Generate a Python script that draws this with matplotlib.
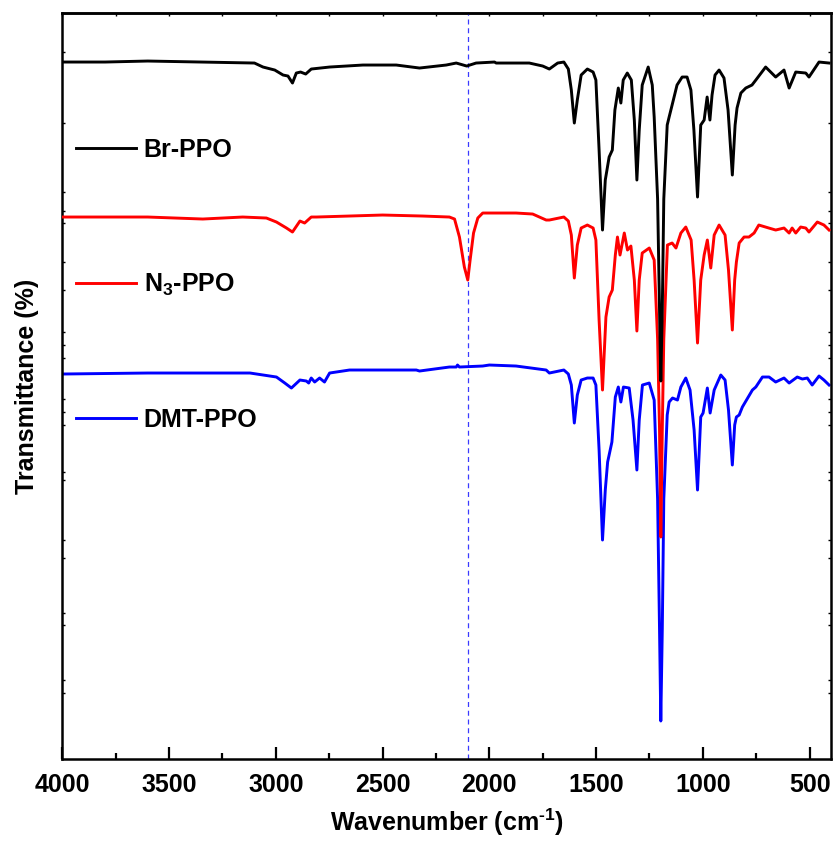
import matplotlib
matplotlib.use('Agg')
import matplotlib.pyplot as plt
from matplotlib.ticker import MultipleLocator, NullFormatter

plt.rcParams['font.family'] = ['Liberation Sans', 'DejaVu Sans']
plt.rcParams['font.weight'] = 'bold'
plt.rcParams['mathtext.fontset'] = 'custom'
plt.rcParams['mathtext.rm'] = 'Liberation Sans:bold'
plt.rcParams['mathtext.bf'] = 'Liberation Sans:bold'
plt.rcParams['mathtext.it'] = 'Liberation Sans:bold:italic'
plt.rcParams['mathtext.default'] = 'rm'

# ---------------- data (wavenumber cm-1, transmittance a.u.) ----------------
br_wn = [4000, 3800, 3600, 3350, 3100, 3060, 3005, 2966, 2943, 2922, 2904, 2884, 2860, 2834,
         2748, 2592, 2436, 2327, 2202, 2155, 2106, 2062, 1976, 1968, 1813, 1750, 1719, 1680,
         1651, 1630, 1616, 1602, 1588, 1570, 1541, 1514, 1501, 1486, 1470, 1457, 1439, 1424,
         1412, 1396, 1384, 1373, 1354, 1335, 1321, 1309, 1298, 1284, 1256, 1237, 1228, 1212,
         1203, 1197, 1190, 1183, 1167, 1158, 1144, 1121, 1097, 1074, 1056, 1042, 1025, 1010,
         994, 980, 967, 957, 943, 924, 901, 882, 862, 849, 840, 822, 799, 770, 752, 706,
         659, 620, 596, 565, 518, 503, 456, 409]
br_t = [697, 697, 698, 697, 696, 692, 689, 684, 683, 676, 686, 687, 685, 690,
        692, 694, 694, 691, 694, 696, 693, 696, 697, 696, 696, 693, 690, 696,
        697, 690, 669, 636, 659, 684, 690, 687, 679, 609, 529, 579, 602, 609,
        649, 671, 656, 679, 686, 679, 639, 579, 629, 674, 692, 674, 642, 560,
        450, 378, 450, 560, 634, 642, 654, 674, 682, 682, 669, 629, 562, 634,
        639, 662, 639, 664, 684, 689, 681, 649, 584, 634, 651, 666, 671, 674, 679, 692,
        682, 689, 671, 687, 686, 682, 697, 696]

n3_wn = [4000, 3600, 3342, 3155, 3044, 2997, 2950, 2922, 2887, 2865, 2834, 2810, 2500, 2313,
         2187, 2163, 2140, 2117, 2101, 2090, 2074, 2054, 2031, 1968, 1875, 1797, 1734, 1719,
         1651, 1630, 1616, 1602, 1588, 1570, 1541, 1514, 1501, 1486, 1470, 1454, 1439, 1424,
         1410, 1400, 1388, 1368, 1353, 1337, 1321, 1309, 1298, 1284, 1251, 1228, 1212, 1203,
         1197, 1190, 1183, 1166, 1144, 1126, 1103, 1080, 1055, 1041, 1025, 1010, 994, 979,
         963, 947, 924, 896, 880, 862, 851, 843, 830, 807, 784, 760, 738, 691, 659, 620,
         596, 582, 565, 542, 518, 503, 464, 433, 409]
n3_t = [542, 542, 540, 542, 541, 537, 531, 527, 538, 536, 542, 542, 544, 543,
        542, 540, 522, 492, 479, 499, 526, 541, 546, 546, 546, 545, 539, 539,
        542, 538, 524, 481, 514, 531, 534, 531, 519, 439, 369, 442, 462, 469,
        504, 522, 504, 526, 509, 513, 479, 428, 479, 506, 511, 499, 420, 330,
        222, 330, 420, 514, 516, 511, 526, 532, 519, 479, 416, 479, 504, 519,
        491, 524, 534, 524, 489, 429, 479, 497, 516, 522, 522, 526, 534, 531, 529, 531,
        526, 531, 526, 532, 531, 527, 537, 534, 529]

dmt_wn = [4000, 3600, 3300, 3121, 2997, 2958, 2927, 2912, 2887, 2857, 2846, 2834, 2818, 2795,
          2772, 2748, 2655, 2342, 2327, 2187, 2155, 2149, 2140, 2031, 2000, 1875, 1734, 1719,
          1651, 1630, 1616, 1602, 1588, 1570, 1541, 1514, 1501, 1486, 1470, 1457, 1446, 1426,
          1410, 1396, 1384, 1372, 1345, 1327, 1309, 1298, 1283, 1251, 1228, 1212, 1203, 1197,
          1190, 1183, 1167, 1158, 1142, 1119, 1103, 1080, 1060, 1041, 1025, 1010, 999, 979,
          966, 947, 916, 896, 880, 862, 851, 843, 830, 815, 768, 752, 721, 690, 659, 620,
          596, 558, 534, 511, 488, 456, 433, 409]
dmt_t = [385, 386, 386, 386, 382, 376, 371, 374, 379, 378, 376, 381, 377, 381,
         377, 386, 389, 389, 388, 392, 392, 394, 392, 393, 394, 393, 389, 386,
         389, 385, 374, 336, 364, 379, 381, 381, 374, 309, 219, 269, 297, 317,
         362, 372, 357, 372, 371, 339, 289, 339, 374, 376, 359, 260, 130,
         38, 130, 260, 344, 357, 361, 359, 372, 381, 369, 329, 269, 342, 346, 371,
         346, 369, 384, 379, 349, 294, 334, 342, 344, 352, 369, 372, 382, 382, 377, 381,
         376, 382, 380, 381, 374, 383, 379, 374]

labels = ['Br-PPO', 'N$_3$-PPO', 'DMT-PPO']
colors = ['#000000', '#ff0000', '#0000ff']
azide_wn = 2100
x_major = 500
x_minor = 250
y_ticks = [707, 636, 567, 548, 536, 497, 469, 427, 414, 401, 360, 347, 334,
           287, 279, 219, 201, 146, 134, 79, 66]

# ---------------- figure ----------------
fig = plt.figure(figsize=(8.36, 8.41), dpi=100)
ax = fig.add_axes([0.0745, 0.0975, 0.9195, 0.887])

ax.axvline(azide_wn, color='#3a3aff', ls=(0, (4, 3)), lw=0.9, zorder=1)
h3, = ax.plot(dmt_wn, dmt_t, color=colors[2], lw=2.1, zorder=2, label=labels[2])
h2, = ax.plot(n3_wn, n3_t, color=colors[1], lw=2.1, zorder=3, label=labels[1])
h1, = ax.plot(br_wn, br_t, color=colors[0], lw=2.1, zorder=4, label=labels[0])

ax.set_xlim(4000, 400)
ax.set_ylim(0, 746)

ax.xaxis.set_major_locator(MultipleLocator(x_major))
ax.xaxis.set_minor_locator(MultipleLocator(x_minor))
ax.tick_params(axis='x', which='major', direction='in', length=9, width=1.6,
               labelsize=18, pad=10)
ax.tick_params(axis='x', which='minor', direction='in', length=4.5, width=1.6)

ax.set_yticks(y_ticks)
ax.yaxis.set_major_formatter(NullFormatter())
ax.tick_params(axis='y', which='major', direction='in', length=2.5, width=1,
               left=True, right=True)

top = ax.secondary_xaxis('top')
top.xaxis.set_major_locator(MultipleLocator(x_minor))
top.xaxis.set_major_formatter(NullFormatter())
top.tick_params(direction='in', length=2.5, width=1)
top.spines['top'].set_linewidth(1.8)

for s in ax.spines.values():
    s.set_linewidth(1.8)

ax.set_xlabel(r'Wavenumber (cm$^{\text{-1}}$)', fontsize=18, fontweight='bold', labelpad=7)
ax.set_ylabel('Transmittance (%)', fontsize=18, fontweight='bold')
ax.yaxis.set_label_coords(-0.03, 0.5)

leg = ax.legend(handles=[h1, h2, h3], loc='upper left', bbox_to_anchor=(0.018, 0.833),
                frameon=False, fontsize=18, handlelength=2.4, handletextpad=0.3,
                labelspacing=4.4, borderaxespad=0, borderpad=0)
for t in leg.get_texts():
    t.set_fontweight('bold')

fig.savefig('out.png', dpi=100)
